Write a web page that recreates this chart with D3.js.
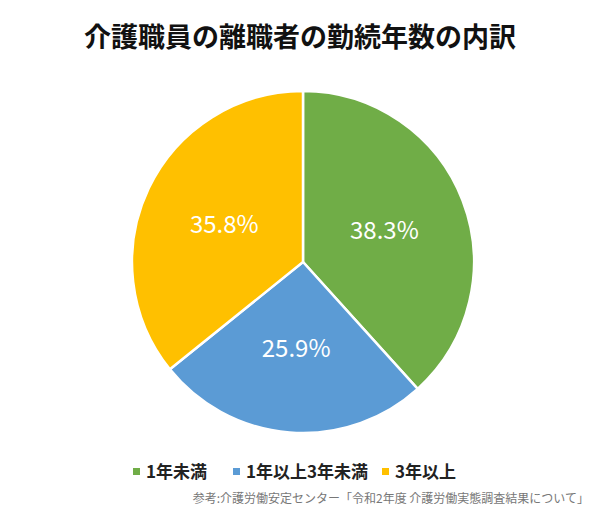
<!DOCTYPE html>
<html><head><meta charset="utf-8">
<script src="https://cdn.jsdelivr.net/npm/d3@7"></script>
<style>body{margin:0;background:#fff}text{font-family:"Noto Sans CJK JP","Noto Sans",sans-serif}</style>
</head><body><svg id="c" width="600" height="524"></svg>
<script>
const categories = ["1年未満", "1年以上3年未満", "3年以上"];
const values = [38.3, 25.9, 35.8];
const colors = ["#70ad47", "#5b9bd5", "#ffc000"];
const title = "介護職員の離職者の勤続年数の内訳";
const source = "参考:介護労働安定センター「令和2年度 介護労働実態調査結果について」";

const svg = d3.select("#c");
svg.append("text").attr("x", 300).attr("y", 47).attr("text-anchor", "middle")
  .attr("font-size", 27).attr("font-weight", "bold").attr("fill", "#111").text(title);

const cx = 303, cy = 262, r = 171;
const pie = d3.pie().sort(null)(values);
const arc = d3.arc().innerRadius(0).outerRadius(r);
const lab = d3.arc().innerRadius(r * 0.51).outerRadius(r * 0.51);
const g = svg.append("g").attr("transform", `translate(${cx},${cy})`);
g.selectAll("path").data(pie).join("path").attr("d", arc)
  .attr("fill", (d, i) => colors[i]).attr("stroke", "#fff").attr("stroke-width", 2.5);
g.selectAll("text").data(pie).join("text")
  .attr("transform", d => `translate(${lab.centroid(d)})`)
  .attr("text-anchor", "middle").attr("dy", "0.35em")
  .attr("font-size", 24).attr("fill", "#fff")
  .text(d => d.data.toFixed(1) + "%");

const leg = svg.append("g");
const lx = [133, 233, 382];
categories.forEach((c, i) => {
  leg.append("rect").attr("x", lx[i]).attr("y", 468).attr("width", 7).attr("height", 7).attr("fill", colors[i]);
  leg.append("text").attr("x", lx[i] + 13).attr("y", 478).attr("font-size", 17)
    .attr("font-weight", "bold").attr("fill", "#222").text(c);
});
svg.append("text").attr("x", 589).attr("y", 503).attr("text-anchor", "end")
  .attr("font-size", 12).attr("fill", "#777").text(source);
</script></body></html>
